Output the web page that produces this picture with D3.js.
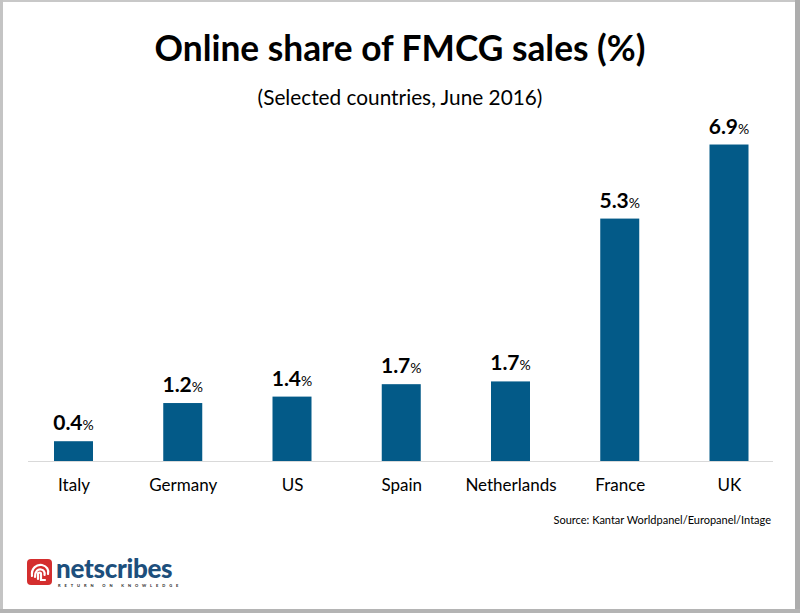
<!DOCTYPE html>
<html>
<head>
<meta charset="utf-8">
<script src="https://cdn.jsdelivr.net/npm/d3@7"></script>
<style>
  html, body { margin: 0; padding: 0; background: #fff; }
  svg { display: block; }
</style>
</head>
<body>
<script>
// ---- Data ----
const categories = ["Italy", "Germany", "US", "Spain", "Netherlands", "France", "UK"];
const barValues = [0.43, 1.26, 1.40, 1.67, 1.73, 5.27, 6.88];
const labelValues = ["0.4", "1.2", "1.4", "1.7", "1.7", "5.3", "6.9"]; // printed labels
const titleText = "Online share of FMCG sales (%)";
const subtitleText = "(Selected countries, June 2016)";
const sourceText = "Source: Kantar Worldpanel/Europanel/Intage";

const W = 800, H = 613;
const font = "Lato, 'Open Sans', sans-serif";
const barColor = "#035a88";

const svg = d3.select("body").append("svg").attr("width", W).attr("height", H);
svg.append("rect").attr("width", W).attr("height", H).attr("fill", "#fff");

// Border frame
svg.append("rect").attr("x", 0).attr("y", 0).attr("width", W).attr("height", 2).attr("fill", "#c8c8c8");
svg.append("rect").attr("x", 0).attr("y", 0).attr("width", 3).attr("height", H).attr("fill", "#c4c4c4");
svg.append("rect").attr("x", 795).attr("y", 0).attr("width", 5).attr("height", H).attr("fill", "#adadad");
svg.append("rect").attr("x", 0).attr("y", 609).attr("width", W).attr("height", 4).attr("fill", "#b4b4b4");

// Scales
const baseY = 461;
const x = d3.scalePoint().domain(categories).range([73.5, 729]);
const y = d3.scaleLinear().domain([0, 1]).range([baseY, baseY - 46]);
const barW = 39;

// Title
svg.append("text").attr("x", 400).attr("y", 61).attr("text-anchor", "middle")
  .attr("font-family", font).attr("font-weight", 700).attr("font-size", 35.3)
  .attr("fill", "#000").text(titleText);
svg.append("text").attr("x", 400).attr("y", 105).attr("text-anchor", "middle")
  .attr("font-family", font).attr("font-size", 20.8)
  .attr("fill", "#000").text(subtitleText);

// Axis line
svg.append("line").attr("x1", 28).attr("x2", 773).attr("y1", baseY + 0.5).attr("y2", baseY + 0.5)
  .attr("stroke", "#d9d9d9").attr("stroke-width", 1);

// Bars
svg.append("g").selectAll("rect").data(categories).join("rect")
  .attr("x", d => x(d) - barW / 2)
  .attr("y", (d, i) => y(barValues[i]))
  .attr("width", barW)
  .attr("height", (d, i) => baseY - y(barValues[i]))
  .attr("fill", barColor);

// Value labels
const lbl = svg.append("g").selectAll("text").data(categories).join("text")
  .attr("x", d => x(d))
  .attr("y", (d, i) => y(barValues[i]) - 11)
  .attr("text-anchor", "middle")
  .attr("font-family", font).attr("fill", "#000");
lbl.append("tspan").attr("font-weight", 700).attr("font-size", 21).text((d, i) => labelValues[i]);
lbl.append("tspan").attr("font-size", 14).text("%");

// X axis labels
const xAxis = d3.axisBottom(x).tickSize(0).tickPadding(0);
const gx = svg.append("g").attr("transform", `translate(0,${baseY + 30})`).call(xAxis);
gx.select(".domain").remove();
gx.selectAll("text").attr("font-family", font).attr("font-size", 17).attr("fill", "#000")
  .attr("dy", 0);

// Source
svg.append("text").attr("x", 771).attr("y", 524).attr("text-anchor", "end")
  .attr("font-family", font).attr("font-size", 11).attr("fill", "#000").text(sourceText);

// Logo
const logo = svg.append("g").attr("transform", "translate(27,559)");
logo.append("rect").attr("x", 0).attr("y", 0).attr("width", 25).attr("height", 26).attr("rx", 4)
  .attr("fill", "#d42e2e");
logo.append("path")
  .attr("d", "M5,17 C4,9 10,5 15,6 C20,7 22,11 21,15 M8,18 C8,12 11,10 14,10.5 C17,11 18,13 17.5,16 M11,20 L11,14.5 C11,13.5 14,13 14,15 L14,21 L18,21")
  .attr("fill", "none").attr("stroke", "#fff").attr("stroke-width", 2.2).attr("stroke-linecap", "round");
logo.append("text").attr("x", 29).attr("y", 19).attr("font-family", font).attr("font-weight", 900)
  .attr("font-size", 26).attr("fill", "#1d4f7c").attr("letter-spacing", -0.3).text("netscribes");
logo.append("text").attr("x", 31).attr("y", 28).attr("font-family", font).attr("font-weight", 900)
  .attr("font-size", 4).attr("fill", "#333").attr("letter-spacing", 3.9).text("RETURN ON KNOWLEDGE");
</script>
</body>
</html>
